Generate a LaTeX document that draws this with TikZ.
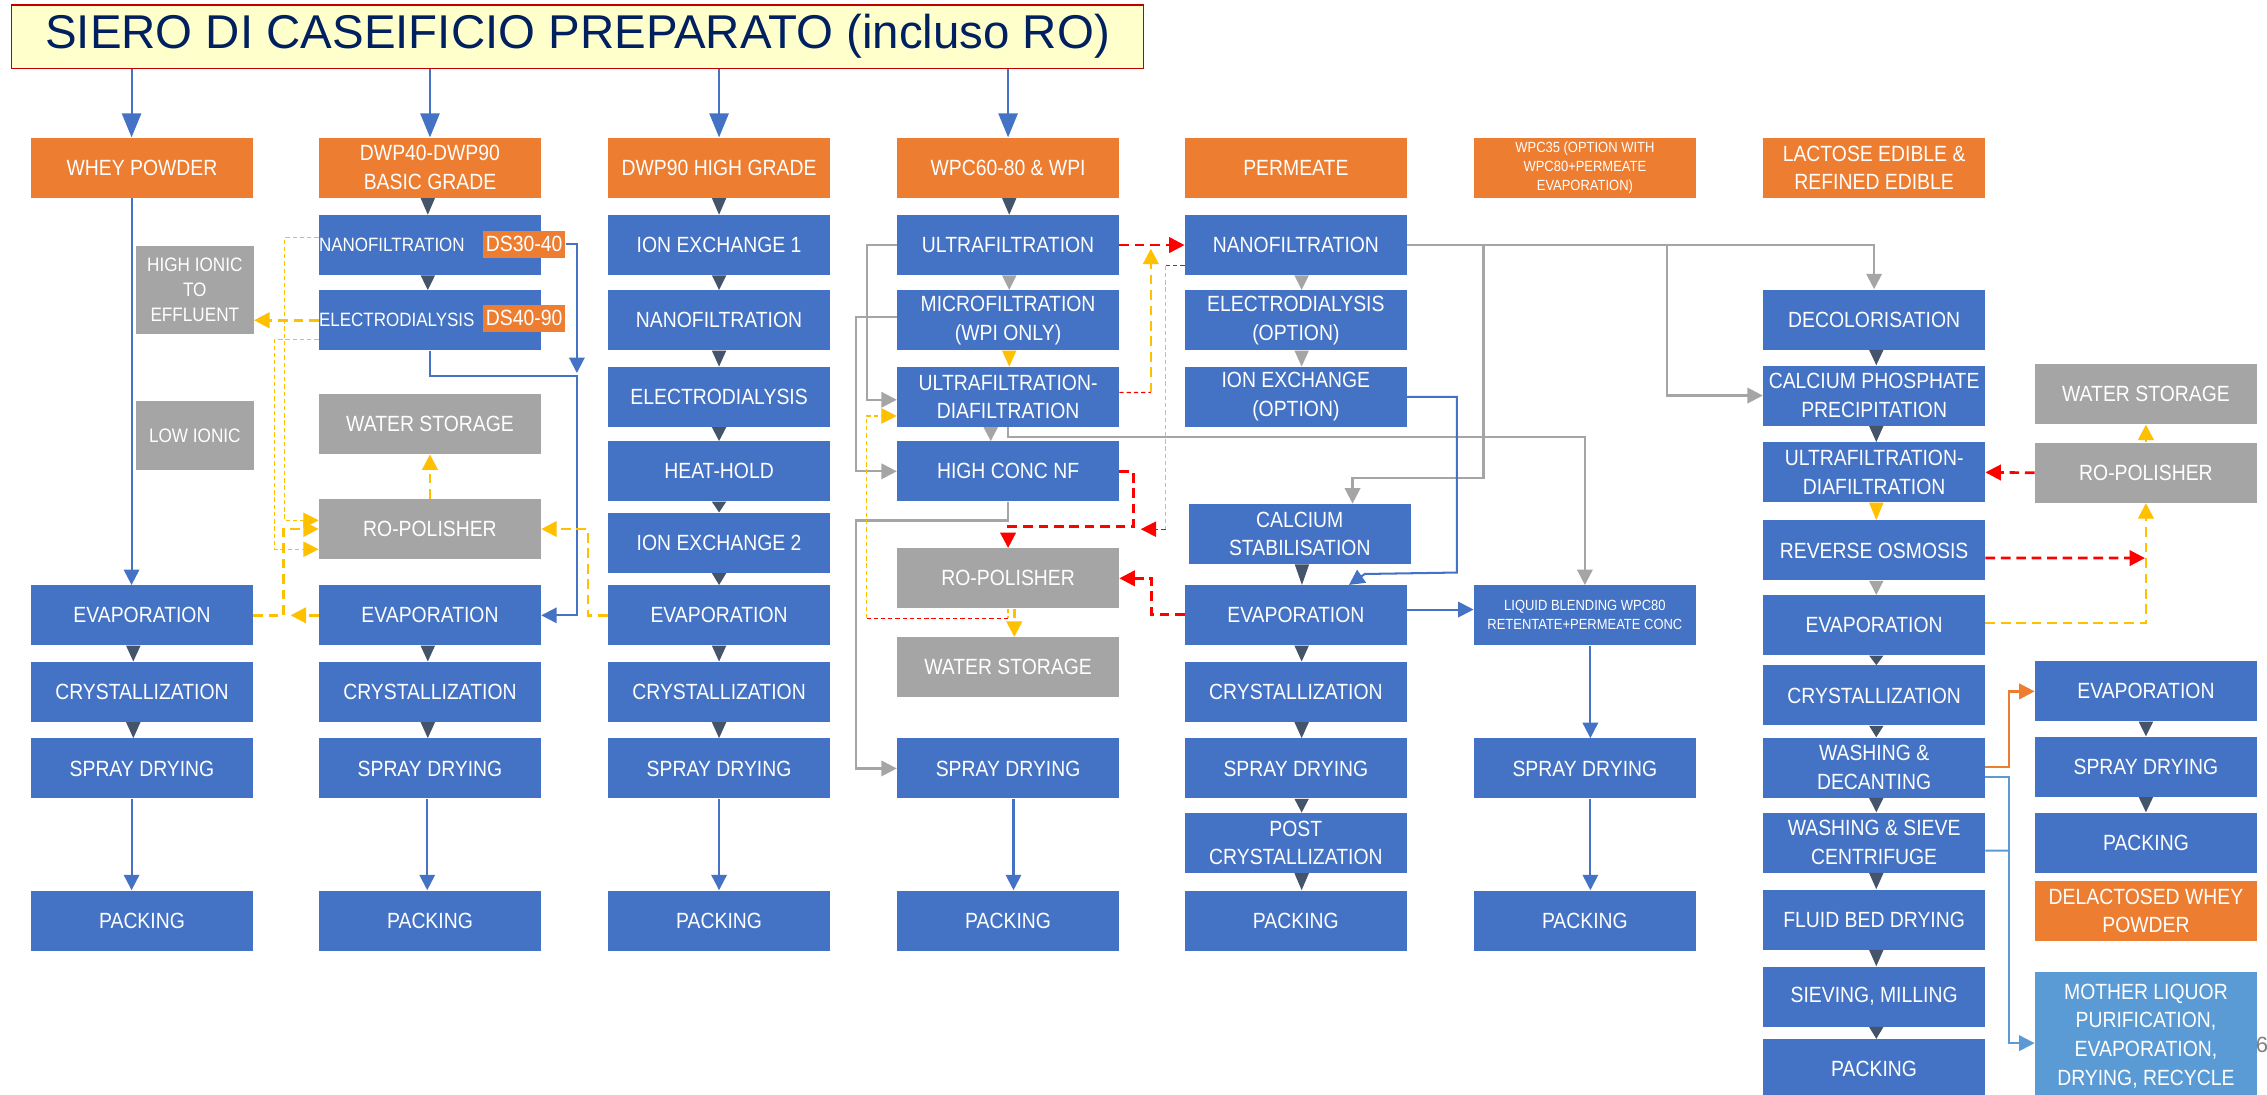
\documentclass[tikz,border=0pt]{standalone}
\usepackage{fontspec}
\setmainfont{Liberation Sans}
\newfontfamily\bxf[FakeStretch=0.88]{Liberation Sans}
\usetikzlibrary{arrows.meta,calc}
\definecolor{blu}{HTML}{4472C4}
\definecolor{org}{HTML}{ED7D31}
\definecolor{gryc}{HTML}{A5A5A5}
\definecolor{dkc}{HTML}{44546A}
\definecolor{yelc}{HTML}{FFC000}
\definecolor{rdc}{HTML}{FF0000}
\definecolor{lblu}{HTML}{5B9BD5}
\definecolor{ttlbg}{HTML}{FFFFCC}
\definecolor{ttlred}{HTML}{C00000}
\definecolor{ttlblue}{HTML}{002060}
\newcommand\fsz[2]{\fontsize{#1}{#2}\selectfont}
% small flow triangle between two stacked boxes
\newcommand\ftri[4][0]{%
  \coordinate (tmp) at ($(#3.south)+(#1,0)$);
  \fill[#2] ($(tmp)+(-5,0)$) -- ($(tmp)+(5,0)$) -- (tmp |- #4.north) -- cycle;}
\begin{document}
\begin{tikzpicture}[x=0.03cm,y=-0.03cm,
  bx/.style={rectangle, fill=#1, text=white, minimum width=4.605cm, minimum height=1.245cm,
    inner sep=1pt, align=center, font=\bxf\fsz{13}{17}},
  bx/.default=blu,
  small/.style={font=\bxf\fsz{8.7}{11.2}},
  ah/.style={-{Triangle[width=0.32cm,length=0.32cm]}},
  tah/.style={-{Triangle[width=0.4cm,length=0.5cm]}},
  bl/.style={draw=blu, line width=1.2pt},
  gl/.style={draw=gryc, line width=1.3pt},
  orl/.style={draw=org, line width=1.4pt},
  lbl/.style={draw=lblu, line width=1.2pt},
  ydk/.style={draw=yelc, line width=1.6pt, dash pattern=on 0.2cm off 0.12cm},
  rdk/.style={draw=rdc, line width=1.6pt, dash pattern=on 0.2cm off 0.12cm},
  ytn/.style={draw=yelc, line width=0.7pt, dash pattern=on 0.09cm off 0.06cm},
  rtn/.style={draw=rdc, line width=0.7pt, dash pattern=on 0.09cm off 0.06cm},
]
\useasboundingbox[fill=white] (0,0) rectangle (1568,757);

% title
\node[draw=ttlred, line width=0.8pt, fill=ttlbg, minimum width=23.49cm, minimum height=1.314cm,
  inner sep=0pt, text=ttlblue, font=\fsz{28}{30}] (tl) at (399.5,25.4) {SIERO DI CASEIFICIO PREPARATO (incluso RO)};

% product headers
\node[bx=org] (h1) at (98.2,116) {WHEY POWDER};
\node[bx=org] (h2) at (297.4,116) {DWP40-DWP90\\BASIC GRADE};
\node[bx=org] (h3) at (497.35,116) {DWP90 HIGH GRADE};
\node[bx=org] (h4) at (697.25,116) {WPC60-80 \& WPI};
\node[bx=org] (h5) at (896.3,116) {PERMEATE};
\node[bx=org, small] (h6) at (1096.2,116) {WPC35 (OPTION WITH\\WPC80+PERMEATE\\EVAPORATION)};
\node[bx=org] (h7) at (1296.25,116) {LACTOSE EDIBLE \&\\REFINED EDIBLE};

% column 1
\node[bx=gryc, minimum width=2.445cm, minimum height=1.824cm, font=\bxf\fsz{11.5}{14.8}] (c1hi) at (134.75,200.4) {HIGH IONIC\\TO\\EFFLUENT};
\node[bx=gryc, minimum width=2.445cm, minimum height=1.425cm, font=\bxf\fsz{11.5}{14.8}] (c1lo) at (134.75,301.15) {LOW IONIC};
\node[bx] (c1ev) at (98.2,425.6) {EVAPORATION};
\node[bx] (c1cr) at (98.2,478.5) {CRYSTALLIZATION};
\node[bx] (c1sp) at (98.2,531.5) {SPRAY DRYING};
\node[bx] (c1pk) at (98.2,636.7) {PACKING};

% column 2
\node[bx] (c2nf) at (297.4,169.5) {};
\node[anchor=west, inner sep=0pt, text=white, font=\bxf\fsz{11.4}{13}] (c2nft) at (c2nf.west) {NANOFILTRATION};
\node[fill=org, text=white, inner sep=0pt, minimum width=1.71cm, minimum height=0.552cm, font=\bxf\fsz{13}{15}] (ds1) at (362.5,169) {DS30-40};
\node[bx] (c2ed) at (297.4,221.5) {};
\node[anchor=west, inner sep=0pt, text=white, font=\bxf\fsz{11.4}{13}] (c2edt) at (c2ed.west) {ELECTRODIALYSIS};
\node[fill=org, text=white, inner sep=0pt, minimum width=1.71cm, minimum height=0.552cm, font=\bxf\fsz{13}{15}] (ds2) at (362.5,220.2) {DS40-90};
\node[bx=gryc] (c2ws) at (297.4,293.3) {WATER STORAGE};
\node[bx=gryc] (c2ro) at (297.4,365.9) {RO-POLISHER};
\node[bx] (c2ev) at (297.4,425.6) {EVAPORATION};
\node[bx] (c2cr) at (297.4,478.5) {CRYSTALLIZATION};
\node[bx] (c2sp) at (297.4,531.5) {SPRAY DRYING};
\node[bx] (c2pk) at (297.4,636.7) {PACKING};

% column 3
\node[bx] (c3i1) at (497.35,169.5) {ION EXCHANGE 1};
\node[bx] (c3nf) at (497.35,221.5) {NANOFILTRATION};
\node[bx] (c3ed) at (497.35,274.5) {ELECTRODIALYSIS};
\node[bx] (c3hh) at (497.35,326) {HEAT-HOLD};
\node[bx] (c3i2) at (497.35,375.4) {ION EXCHANGE 2};
\node[bx] (c3ev) at (497.35,425.6) {EVAPORATION};
\node[bx] (c3cr) at (497.35,478.5) {CRYSTALLIZATION};
\node[bx] (c3sp) at (497.35,531.5) {SPRAY DRYING};
\node[bx] (c3pk) at (497.35,636.7) {PACKING};

% column 4
\node[bx] (c4uf) at (697.25,169.5) {ULTRAFILTRATION};
\node[bx] (c4mf) at (697.25,221.5) {MICROFILTRATION\\(WPI ONLY)};
\node[bx] (c4ud) at (697.25,274.5) {ULTRAFILTRATION-\\DIAFILTRATION};
\node[bx] (c4hc) at (697.25,326) {HIGH CONC NF};
\node[bx=gryc] (c4ro) at (697.25,400) {RO-POLISHER};
\node[bx=gryc] (c4ws) at (697.25,461.5) {WATER STORAGE};
\node[bx] (c4sp) at (697.25,531.5) {SPRAY DRYING};
\node[bx] (c4pk) at (697.25,636.7) {PACKING};

% column 5
\node[bx] (c5nf) at (896.3,169.5) {NANOFILTRATION};
\node[bx] (c5ed) at (896.3,221.5) {ELECTRODIALYSIS\\(OPTION)};
\node[bx] (c5ix) at (896.3,274.5) {ION EXCHANGE\\(OPTION)};
\node[bx] (c5cs) at (899,369.3) {CALCIUM\\STABILISATION};
\node[bx] (c5ev) at (896.3,425.6) {EVAPORATION};
\node[bx] (c5cr) at (896.3,478.5) {CRYSTALLIZATION};
\node[bx] (c5sp) at (896.3,531.5) {SPRAY DRYING};
\node[bx] (c5pc) at (896.3,583) {POST\\CRYSTALLIZATION};
\node[bx] (c5pk) at (896.3,636.7) {PACKING};

% column 6
\node[bx, small] (c6lb) at (1096.2,425.6) {LIQUID BLENDING WPC80\\RETENTATE+PERMEATE CONC};
\node[bx] (c6sp) at (1096.2,531.5) {SPRAY DRYING};
\node[bx] (c6pk) at (1096.2,636.7) {PACKING};

% column 7
\node[bx] (c7dc) at (1296.25,221) {DECOLORISATION};
\node[bx] (c7cp) at (1296.25,273.6) {CALCIUM PHOSPHATE\\PRECIPITATION};
\node[bx] (c7ud) at (1296.25,326.7) {ULTRAFILTRATION-\\DIAFILTRATION};
\node[bx] (c7ro) at (1296.25,380.7) {REVERSE OSMOSIS};
\node[bx] (c7ev) at (1296.25,432.4) {EVAPORATION};
\node[bx] (c7cr) at (1296.25,481) {CRYSTALLIZATION};
\node[bx] (c7wd) at (1296.25,530.9) {WASHING \&\\DECANTING};
\node[bx] (c7ws) at (1296.25,582.8) {WASHING \& SIEVE\\CENTRIFUGE};
\node[bx] (c7fb) at (1296.25,636) {FLUID BED DRYING};
\node[bx] (c7sv) at (1296.25,689.3) {SIEVING, MILLING};
\node[bx] (c7pk) at (1296.25,739.5) {PACKING};

% column 8
\node[bx=gryc] (c8ws) at (1484.25,272.7) {WATER STORAGE};
\node[bx=gryc] (c8ro) at (1484.25,327) {RO-POLISHER};
\node[bx] (c8ev) at (1484.25,478.2) {EVAPORATION};
\node[bx] (c8sp) at (1484.25,530.3) {SPRAY DRYING};
\node[bx] (c8pk) at (1484.25,582.8) {PACKING};
\node[bx=org] (c8dl) at (1484.25,630) {DELACTOSED WHEY\\POWDER};
\node[bx=lblu, minimum height=2.652cm] (c8ml) at (1484.25,716.5) {MOTHER LIQUOR\\PURIFICATION,\\EVAPORATION,\\DRYING, RECYCLE};

% page number
\node[anchor=west, inner sep=0pt, text=gray, font=\fsz{13}{15}] (pg) at (1560,723) {6};

% routing points
\coordinate (x91) at (91,0);
\coordinate (j2a) at (399,258);
\coordinate (j2) at (399,260);
\coordinate (k1) at (196.7,300);
\coordinate (k2) at (189.8,300);
\coordinate (k3) at (196,400);
\coordinate (k4) at (201,425.6);
\coordinate (k5) at (406.6,400);
\coordinate (g1) at (599.6,220);
\coordinate (g2) at (592,270);
\coordinate (g3) at (592,360);
\coordinate (g4) at (1096.2,302);
\coordinate (g6) at (1026,169.5);
\coordinate (g7) at (935.5,330.8);
\coordinate (g9) at (1153,169.5);
\coordinate (r1) at (796,271.4);
\coordinate (r2) at (796,172);
\coordinate (r3) at (806.2,183.8);
\coordinate (r4) at (806.2,366);
\coordinate (r5) at (789,366);
\coordinate (r6) at (783.8,364.3);
\coordinate (r7) at (697.25,364.3);
\coordinate (r8) at (796.6,410);
\coordinate (y1) at (697.25,427.7);
\coordinate (y2) at (599.4,427.7);
\coordinate (b1) at (1007.7,396);
\coordinate (b2) at (944,397);
\coordinate (b3) at (933,404.6);
\coordinate (q1) at (1483.6,386);
\coordinate (o1) at (1389.5,500);
\coordinate (o2) at (1389.5,600);
\coordinate (o3) at (1389.5,588.4);

% feed arrows from the title
\draw[bl,tah] (tl.south -| x91) -- (h1.north -| x91);
\draw[bl,tah] (tl.south -| h2.north) -- (h2.north);
\draw[bl,tah] (tl.south -| h3.north) -- (h3.north);
\draw[bl,tah] (tl.south -| h4.north) -- (h4.north);

% small step triangles
\ftri[-6]{dkc}{c1ev}{c1cr}
\ftri[-6]{dkc}{c1cr}{c1sp}
\ftri[-1.5]{dkc}{h2}{c2nf}
\ftri[-1.5]{dkc}{c2nf}{c2ed}
\ftri[-1.5]{dkc}{c2ev}{c2cr}
\ftri[-1.5]{dkc}{c2cr}{c2sp}
\ftri{dkc}{h3}{c3i1}
\ftri{dkc}{c3i1}{c3nf}
\ftri{dkc}{c3nf}{c3ed}
\ftri{dkc}{c3ed}{c3hh}
\ftri{dkc}{c3hh}{c3i2}
\ftri{dkc}{c3i2}{c3ev}
\ftri{dkc}{c3ev}{c3cr}
\ftri{dkc}{c3cr}{c3sp}
\ftri[0.8]{dkc}{h4}{c4uf}
\ftri[0.8]{gryc}{c4uf}{c4mf}
\ftri[0.8]{yelc}{c4mf}{c4ud}
\ftri[-12]{gryc}{c4ud}{c4hc}
\ftri[4]{gryc}{c5nf}{c5ed}
\ftri[4]{gryc}{c5ed}{c5ix}
\ftri[1.5]{dkc}{c5cs}{c5ev}
\ftri[4]{dkc}{c5ev}{c5cr}
\ftri[4]{dkc}{c5cr}{c5sp}
\ftri[4]{dkc}{c5sp}{c5pc}
\ftri[4]{dkc}{c5pc}{c5pk}
\ftri[1.5]{dkc}{c7dc}{c7cp}
\ftri[1.5]{dkc}{c7cp}{c7ud}
\ftri[1.5]{yelc}{c7ud}{c7ro}
\ftri[1.5]{gryc}{c7ro}{c7ev}
\ftri[1.5]{dkc}{c7ev}{c7cr}
\ftri[1.5]{dkc}{c7cr}{c7wd}
\ftri[1.5]{dkc}{c7wd}{c7ws}
\ftri[1.5]{dkc}{c7ws}{c7fb}
\ftri[1.5]{dkc}{c7fb}{c7sv}
\ftri[1.5]{dkc}{c7sv}{c7pk}
\ftri{dkc}{c8ev}{c8sp}
\ftri{dkc}{c8sp}{c8pk}

% column 1 and 2 flows
\draw[bl,ah] (h1.south -| x91) -- (c1ev.north -| x91);
\draw[bl,ah] (c1sp.south -| x91) -- (c1pk.north -| x91);
\draw[bl,ah] (ds1.east) -| (j2a);
\draw[bl,ah] (c2ed.south) |- (j2) |- (c2ev.east);
\draw[ydk,ah] (c2ed.west) -- (c2ed.west -| c1hi.east);
\draw[ytn,ah] ($(c2nf.west)+(0,-5)$) -| (k1) |- ($(c2ro.west)+(0,-6)$);
\draw[ytn,ah] ($(c2ed.west)+(0,13.2)$) -| (k2) |- ($(c2ro.west)+(0,14)$);
\draw[ydk,ah] (c1ev.east) -| (k3) |- (c2ro.west);
\draw[ydk,ah] (c2ev.west) -- (k4);
\draw[ydk,ah] (c2ro.north) -- (c2ws.south);
\draw[ydk,ah] (c3ev.west) -| (k5) |- (c2ro.east);
\draw[bl,ah] ($(c2sp.south)+(-1.9,0)$) -- ($(c2pk.north)+(-1.9,0)$);
\draw[bl,ah] (c3sp.south) -- (c3pk.north);

% column 4 flows
\draw[gl,ah] (c4uf.west) -| (g1) |- ($(c4ud.west)+(0,2)$);
\draw[gl,ah] ($(c4mf.west)+(0,-2)$) -| (g2) |- (c4hc.west);
\draw[gl,ah] (c4hc.south) |- (g3) |- (c4sp.west);
\draw[gl,ah] (c4ud.south) |- (g4) -- (c6lb.north);
\draw[rdk,ah] (c4uf.east) -- (c5nf.west);
\draw[rtn] ($(c4ud.east)+(0,-3)$) -- (r1);
\draw[ydk,ah] (r1) -- (r2);
\draw[rtn] ($(c5nf.west)+(0,14.3)$) -- (r3);
\draw[ytn] (r3) -- (r4);
\draw[rtn,ah] (r4) -- (r5);
\draw[rdk,ah] (c4hc.east) -| (r6) -- (r7) -- (c4ro.north);
\draw[rdk,ah] ($(c5ev.west)+(0,-0.6)$) -| (r8) |- (c4ro.east);
\draw[ydk,ah] ($(c4ro.south)+(4.3,0)$) -- ($(c4ws.north)+(4.3,0)$);
\draw[ytn] (c4ro.south) -- (y1);
\draw[rtn] (y1) -- (y2);
\draw[ytn,ah] (y2) |- ($(c4ud.west)+(0,13.2)$);
\draw[bl,ah] ($(c4sp.south)+(3.75,0)$) -- ($(c4pk.north)+(3.75,0)$);

% column 5 and 6 flows
\draw[gl,ah] (c5nf.east) -| (c7dc.north);
\draw[gl,ah] (g6) |- (g7) -- (g7 |- c5cs.north);
\draw[gl,ah] (g9) |- (c7cp.west);
\draw[bl,ah] (c5ix.east) -| (b1) -- (b2) -- (b3);
\draw[bl,ah] ($(c5ev.east)+(0,-4)$) -- ($(c6lb.west)+(0,-4)$);
\draw[bl,ah] ($(c6lb.south)+(3.8,0)$) -- ($(c6sp.north)+(3.8,0)$);
\draw[bl,ah] ($(c6sp.south)+(3.8,0)$) -- ($(c6pk.north)+(3.8,0)$);

% column 7 and 8 flows
\draw[rdk,ah] (c8ro.west) -- (c7ud.east);
\draw[rdk,ah] ($(c7ro.east)+(0,5.3)$) -- (q1);
\draw[ydk,ah] ($(c7ev.east)+(0,-1.4)$) -| (c8ro.south);
\draw[ydk,ah] (c8ro.north) -- (c8ws.south);
\draw[orl,ah] ($(c7wd.east)+(0,-0.2)$) -| (o1) |- (c8ev.west);
\draw[lbl,ah] ($(c7wd.east)+(0,6.3)$) -| (o2) |- ($(c8ml.west)+(0,5)$);
\draw[lbl] ($(c7ws.east)+(0,5.6)$) -- (o3);
\end{tikzpicture}
\end{document}
